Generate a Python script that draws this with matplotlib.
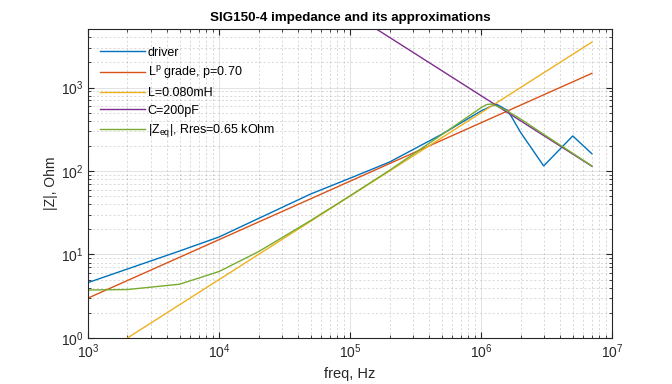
import matplotlib.pyplot as plt
import numpy as np

plt.rcParams['font.family'] = ['Liberation Sans', 'DejaVu Sans']
plt.rcParams['mathtext.fontset'] = 'custom'
plt.rcParams['mathtext.rm'] = 'Liberation Sans'
plt.rcParams['mathtext.it'] = 'Liberation Sans'

# measured driver impedance
freq = [1e3, 2e3, 5e3, 1e4, 2e4, 5e4, 1e5, 2e5, 5e5, 1e6, 1.3e6, 1.6e6, 2e6, 3e6, 5e6, 7e6]
z_driver = [4.6, 6.7, 11.0, 16.2, 27, 53, 82, 128, 275, 525, 635, 530, 290, 115, 263, 161]

# equivalent circuit |Z_eq|
freq_eq = [1e3, 2e3, 5e3, 1e4, 2e4, 5e4, 1e5, 2e5, 5e5, 1e6, 1.1e6, 1.2e6, 1.5e6, 2e6, 3e6, 5e6, 7e6]
z_eq = [3.75, 3.8, 4.4, 6.25, 10.8, 25.5, 50.5, 102, 272, 575, 625, 635, 550, 420, 275, 163, 115]

# straight-line approximations (end points)
freq_ends = [1e3, 7e6]
z_grade = [3.0, 1480]
z_L = [0.5, 3500]
z_C = [7.96e5, 114]

labels = ['driver', r'L$^{\rm p}$ grade, p=0.70', 'L=0.080mH', 'C=200pF',
          r'|Z$_{\rm eq}$|, Rres=0.65 kOhm']
colors = ['#0072BD', '#D95319', '#EDB120', '#7E2F8E', '#77AC30']

fig = plt.figure(figsize=(6.72, 3.84), dpi=100)
ax = fig.add_axes([0.131, 0.12, 0.78, 0.804])

ax.loglog(freq, z_driver, color=colors[0], lw=1, label=labels[0])
ax.loglog(freq_ends, z_grade, color=colors[1], lw=1, label=labels[1])
ax.loglog(freq_ends, z_L, color=colors[2], lw=1, label=labels[2])
ax.loglog(freq_ends, z_C, color=colors[3], lw=1, label=labels[3])
ax.loglog(freq_eq, z_eq, color=colors[4], lw=1, label=labels[4])

ax.set_xlim(1e3, 1e7)
ax.set_ylim(1, 5000)
ax.grid(True, which='major', color='#262626', alpha=0.15, lw=0.6, ls='-')
ax.grid(True, which='minor', color='#262626', alpha=0.2, lw=0.6, ls=(0, (2.5, 2.5)))
ax.tick_params(which='both', direction='in', top=True, right=True, colors='#262626',
               labelsize=10)
ax.tick_params(which='major', length=4)
ax.tick_params(which='minor', length=2)
for s in ax.spines.values():
    s.set_color('#262626')
    s.set_linewidth(0.8)

ax.set_title('SIG150-4 impedance and its approximations', fontsize=9.6, fontweight='bold')
ax.set_xlabel('freq, Hz', fontsize=10.5, color='#262626')
ax.set_ylabel('|Z|, Ohm', fontsize=10, color='#262626', labelpad=2)

ax.legend(loc='upper left', bbox_to_anchor=(-0.01, 1.0), frameon=False, fontsize=9,
          handlelength=3.6, handletextpad=0.2, labelspacing=0.45, borderaxespad=1.0)

fig.savefig('out.png')
